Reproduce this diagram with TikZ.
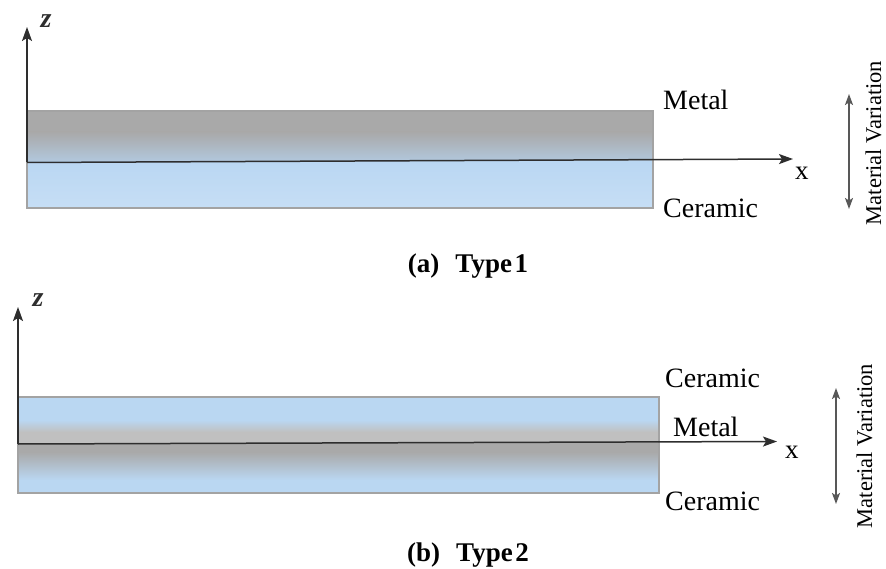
\documentclass[tikz,border=0pt]{standalone}
\usepackage{fontspec}
\setmainfont{Liberation Serif}
\usetikzlibrary{arrows.meta}
\definecolor{ceram}{HTML}{BAD7F2}
\definecolor{ceramlt}{HTML}{C6DEF5}
\definecolor{metal}{HTML}{A9A9A9}
\definecolor{metallt}{HTML}{C0C0C0}
\definecolor{bluegray}{HTML}{B2C8DE}
\definecolor{edgec}{HTML}{A3A3A3}
\definecolor{axisc}{HTML}{2E2E2E}
\tikzset{
  axisline/.style={draw=axisc, line width=1.5pt, -{Stealth[length=14pt,width=10pt,inset=3pt]}},
  varline/.style={draw=axisc!80, line width=1.6pt, {Stealth[length=11pt,width=8pt,inset=2.5pt]}-{Stealth[length=11pt,width=8pt,inset=2.5pt]}},
  lbl/.style={inner sep=0pt, font=\fontsize{28}{32}\selectfont, text=black},
  axlbl/.style={inner sep=0pt, font=\fontsize{27}{30}\selectfont, text=black},
  zlbl/.style={inner sep=0pt, font=\fontsize{28}{30}\selectfont\bfseries\itshape, text=axisc},
  caplbl/.style={inner sep=0pt, font=\fontsize{27}{30}\selectfont\bfseries, text=black},
  varlbl/.style={inner sep=0pt, font=\fontsize{22.5}{25}\selectfont, text=black, rotate=90},
  border/.style={draw=edgec, line width=1.3pt}
}
\begin{document}
\begin{tikzpicture}[x=1pt,y=-1pt]
\useasboundingbox[fill=white] (0,0) rectangle (886,569);

% ---------- Type 1 ----------
\fill[metal] (27,111) rectangle (653,132);
\shade[top color=metal, bottom color=bluegray] (27,132) rectangle (653,162);
\shade[top color=ceram, bottom color=ceramlt] (27,162) rectangle (653,208);
\draw[border] (27,111) rectangle (653,208);

\coordinate (o1) at (27,162.5);
\coordinate (z1) at (27,27);
\coordinate (x1) at (793,159);
\draw[axisline] (o1) -- (z1);
\draw[axisline] (o1) -- (x1);
\node[zlbl] (zl1) at (46,21) {z};
\node[axlbl, anchor=base west] (xl1) at (795,180) {x};
\node[lbl, anchor=base west] (metal1) at (663,110) {Metal};
\node[lbl, anchor=base west] (ceramic1) at (663,218) {Ceramic};
\coordinate (v1t) at (849,94);
\coordinate (v1b) at (849,209);
\draw[varline] (v1t) -- (v1b);
\node[varlbl, anchor=base] (var1) at (881,143) {Material Variation};
\node[caplbl, anchor=base] (cap1) at (468,273) {(a)\hspace{0.6em}Type\hspace{0.1em}1};

% ---------- Type 2 ----------
\fill[ceram] (18,397) rectangle (659,420);
\shade[top color=ceram, bottom color=metallt] (18,420) rectangle (659,432);
\fill[metallt] (18,432) rectangle (659,443);
\fill[metal] (18,443) rectangle (659,452);
\shade[top color=metal, bottom color=ceram] (18,452) rectangle (659,480);
\fill[ceram] (18,480) rectangle (659,493);
\draw[border] (18,397) rectangle (659,493);

\coordinate (o2) at (18,444);
\coordinate (z2) at (18,307);
\coordinate (x2) at (777,441.5);
\draw[axisline] (o2) -- (z2);
\draw[axisline] (o2) -- (x2);
\node[zlbl] (zl2) at (38,300) {z};
\node[axlbl, anchor=base west] (xl2) at (785,458) {x};
\node[lbl, anchor=base west] (ceramic2a) at (665,387) {Ceramic};
\node[lbl, anchor=base west] (metal2) at (673,436) {Metal};
\node[lbl, anchor=base west] (ceramic2b) at (665,510) {Ceramic};
\coordinate (v2t) at (836,388);
\coordinate (v2b) at (836,504);
\draw[varline] (v2t) -- (v2b);
\node[varlbl, anchor=base] (var2) at (872,446) {Material Variation};
\node[caplbl, anchor=base] (cap2) at (468,561) {(b)\hspace{0.6em}Type\hspace{0.1em}2};
\end{tikzpicture}
\end{document}
